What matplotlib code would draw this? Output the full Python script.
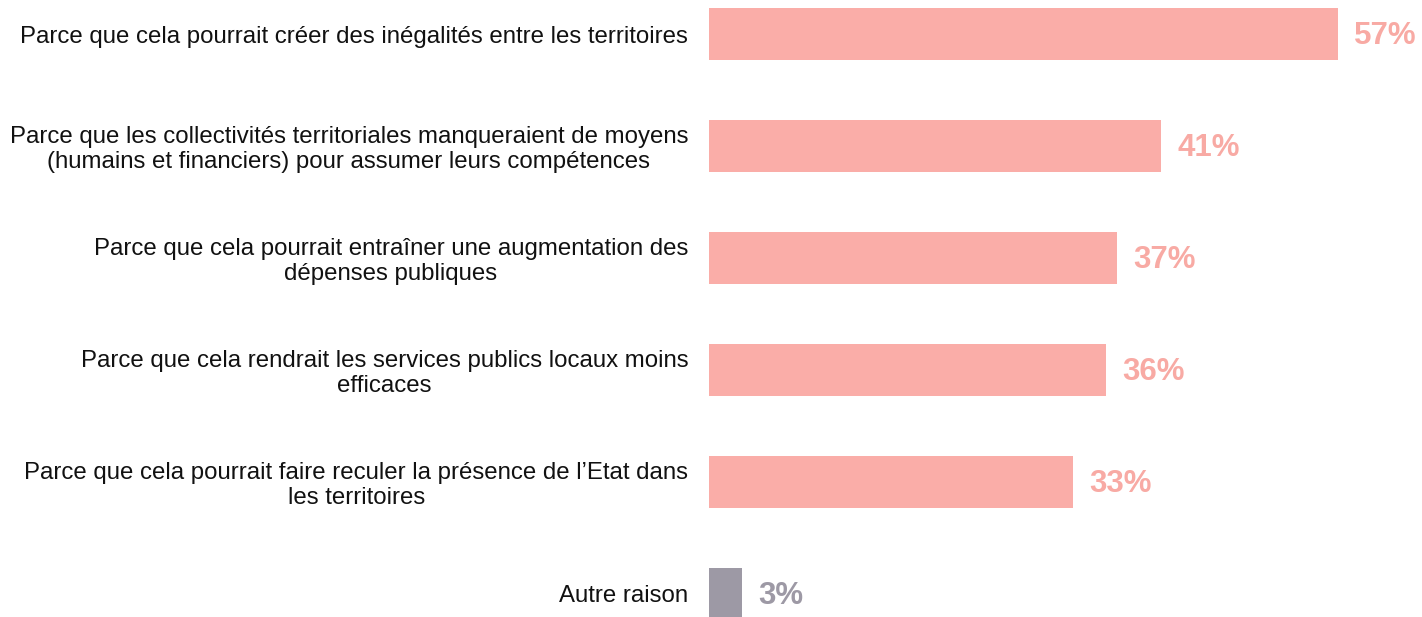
import matplotlib.pyplot as plt

plt.rcParams['font.family'] = ['Liberation Sans', 'DejaVu Sans']

labels = [
    "Parce que cela pourrait créer des inégalités entre les territoires",
    "Parce que les collectivités territoriales manqueraient de moyens\n(humains et financiers) pour assumer leurs compétences",
    "Parce que cela pourrait entraîner une augmentation des\ndépenses publiques",
    "Parce que cela rendrait les services publics locaux moins\nefficaces",
    "Parce que cela pourrait faire reculer la présence de l\u2019Etat dans\nles territoires",
    "Autre raison",
]
values = [57, 41, 37, 36, 33, 3]
bar_colors = ['#FAADA8'] * 5 + ['#9D99A5']
text_colors = ['#F8AAA4'] * 5 + ['#9D99A5']

fig = plt.figure(figsize=(14.22, 6.17), dpi=100)
ax = fig.add_axes([709 / 1422, 0, 713 / 1422, 1])

y = list(range(len(values)))
ax.barh(y, values, height=0.464, color=bar_colors)

for yi, v, c in zip(y, values, text_colors):
    ax.text(v + 1.45, yi + 0.02, f"{v}%", va='center', ha='left',
            fontsize=22.5, fontweight='bold', color=c)

ax.set_xlim(0, 713 / 11.035)
ax.set_ylim(5 + 23 / 112, -34 / 112)
ax.set_yticks(y)
ax.set_yticklabels(labels, fontsize=17.3, multialignment='center',
                   color='#111111', linespacing=1.12)
ax.tick_params(axis='y', length=0, pad=15)
ax.set_xticks([])
for s in ax.spines.values():
    s.set_visible(False)

fig.savefig('out.png', dpi=100)
